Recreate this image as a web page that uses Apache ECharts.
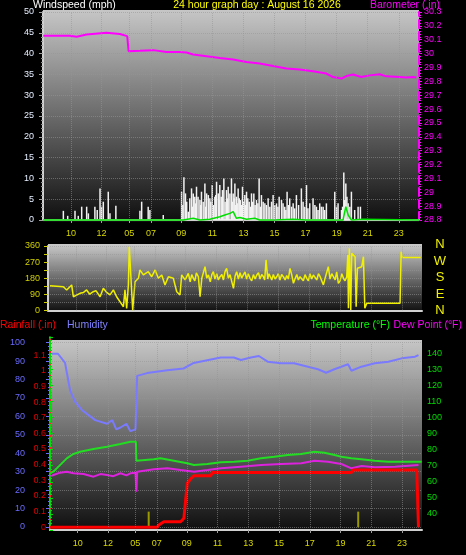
<!DOCTYPE html>
<html><head><meta charset="utf-8">
<script src="https://cdn.jsdelivr.net/npm/echarts@6/dist/echarts.min.js"></script>
<style>html,body{margin:0;padding:0;background:#000;}#c{width:466px;height:555px;}</style>
</head><body><div id="c"></div>
<script>
// ---- x axis (hours since left edge of plot), with irregular clock labels ----
const XMAX = 24.2;
const hourTickPos = [1.8, 3.77, 5.55, 6.95, 8.9, 10.9, 12.9, 14.9, 16.9, 18.9, 20.9, 22.9];
const hourTickLabels = ['10','12','05','07','09','11','13','15','17','19','21','23'];

// ---- wind speed (mph): gusts as bars, average as line ----
const gustT = [1.31,1.59,2.06,2.27,2.49,2.81,2.92,3.34,3.49,3.67,3.77,3.88,4.20,4.31,4.69,6.24,6.35,6.77,6.88,7.74,
  8.92,9.07,9.17,9.35,9.56,9.67,9.77,9.88,10.10,10.20,10.42,10.53,10.74,10.89,11.06,11.17,11.28,11.38,11.55,11.64,11.81,11.92,
  12.13,12.24,12.35,12.45,12.56,12.71,12.84,12.99,13.10,13.27,13.42,13.57,13.74,13.91,14.06,14.28,14.49,14.71,14.81,
  15.03,15.20,15.35,15.56,15.71,15.88,16.10,16.31,16.63,16.74,16.96,17.17,17.38,17.60,17.81,18.03,18.24,18.78,18.89,18.99,
  19.21,19.36,19.49,19.64,19.85,20.06,20.28,20.43,
  9.00,9.25,9.45,9.62,9.82,9.98,10.15,10.31,10.47,10.64,10.80,10.97,11.12,11.33,11.47,11.72,11.87,12.03,12.18,12.30,12.40,
  12.50,12.63,12.78,12.92,13.05,13.18,13.35,13.50,13.65,13.83,13.99,14.17,14.38,14.60,14.92,15.12,15.45,15.63,15.80,16.00,
  16.20,16.45,16.85,17.05,17.50,17.70,17.92,18.13,19.28,19.42,19.56,19.75];
const gustV = [2.2,1.0,2.2,1.0,3.2,3.2,1.6,3.2,2.4,7.6,3.2,4.4,6.8,1.6,3.4,2.2,4.4,3.2,2.4,1.2,
  6.8,10.3,6.4,2.0,7.6,6.4,5.6,8.0,4.8,6.8,8.8,6.4,5.2,8.4,5.6,9.2,6.4,8.4,7.2,10.0,7.2,8.0,
  10.0,6.4,8.8,5.6,7.6,4.8,8.0,6.0,6.8,4.4,6.4,6.4,4.8,10.0,6.0,4.0,5.2,4.4,6.0,
  4.0,5.6,4.8,3.2,6.8,5.2,4.0,6.0,7.6,4.4,8.4,4.0,5.2,3.2,4.0,3.2,4.0,6.8,3.2,4.0,
  2.4,11.4,8.8,4.0,6.8,2.4,3.2,3.2,
  3.6,4.4,5.2,3.2,4.0,5.6,3.6,4.4,3.2,6.0,4.4,3.6,6.0,4.8,5.6,4.4,5.2,6.4,4.4,5.2,3.6,
  4.0,5.2,3.6,4.4,3.6,5.2,3.2,4.4,3.6,4.0,3.2,4.4,3.6,3.2,3.6,3.2,4.0,2.4,3.6,3.2,
  2.8,3.6,3.2,2.8,3.6,2.4,3.2,2.4,3.2,4.8,5.6,3.2];
const avgT = [0, 9.02, 9.67, 10.10, 10.74, 11.38, 11.70, 12.03, 12.24, 12.45, 12.67, 13.10, 13.63, 13.95, 14.81, 16.10, 16.96, 19.31, 19.49, 19.64, 19.85, 20.60, 24.2];
const avgV = [0, 0, 0.4, 0, 0.2, 0.8, 1.2, 1.6, 2.0, 0.4, 0.6, 0.2, 0.4, 0, 0, 0.2, 0, 0, 3.2, 1.2, 0, 0.2, 0];

// ---- barometer (inHg) ----
const baroT = [0.02,1.74,2.17,2.81,4.09,4.95,5.42,5.51,6.24,7.10,7.95,8.81,9.24,9.67,10.53,11.38,12.24,13.10,13.95,14.81,15.67,16.52,17.38,18.24,18.67,19.21,19.53,19.96,20.49,21.03,21.67,22.10,22.96,23.39,23.82,24.03];
const baroV = [30.128,30.128,30.121,30.138,30.150,30.141,30.126,30.017,30.020,30.025,30.012,30.012,30.008,29.993,29.981,29.969,29.957,29.940,29.928,29.911,29.892,29.885,29.872,29.856,29.831,29.820,29.838,29.849,29.831,29.843,29.851,29.836,29.831,29.827,29.831,29.827];

// ---- wind direction (degrees) ----
const dirT = [0.13,0.99,1.21,1.53,1.64,2.07,2.3,2.5,2.7,2.93,3.1,3.37,3.58,3.8,4.01,4.1,4.23,4.44,4.66,4.88,4.98,5.09,5.20,5.26,5.35,5.48,
  5.63,5.85,5.95,6.17,6.49,6.71,6.93,7.14,7.36,7.57,7.79,8.11,8.33,8.54,8.65,8.87,9.08,9.2,9.3,9.41,9.5,9.6,9.73,9.84,9.95,
  10.05,10.16,10.27,10.38,10.5,10.6,10.70,10.8,10.92,11.02,11.13,11.25,11.35,11.45,11.56,11.67,11.78,11.89,12.00,12.1,12.21,
  12.32,12.43,12.53,12.64,12.75,12.85,12.96,13.07,13.18,13.29,13.4,13.51,13.62,13.72,13.83,13.94,14.02,14.11,14.22,14.3,14.37,
  14.48,14.58,14.69,14.80,14.9,15.01,15.12,15.23,15.34,15.45,15.55,15.66,15.77,15.88,15.98,16.1,16.2,16.31,16.42,16.52,16.63,
  16.74,16.85,16.95,17.06,17.17,17.28,17.39,17.5,17.61,17.72,17.82,17.93,18.03,18.14,18.25,18.36,18.47,18.58,18.68,18.79,
  18.9,19.01,19.12,19.22,19.33,19.40,19.44,19.50,19.59,19.65,19.87,19.94,20.02,20.30,20.41,20.50,20.63,22.78,22.85,22.93,24.12];
const dirV = [138,132,114,142,76,95,100,114,90,104,110,76,123,100,86,95,114,76,48,20,114,11,142,356,347,0,
  160,179,226,198,216,188,226,179,198,142,188,179,104,86,198,170,207,160,200,179,165,210,188,76,179,
  170,244,180,198,160,200,216,175,205,170,188,200,170,215,235,180,200,207,123,190,216,
  175,210,180,198,215,175,205,179,165,200,175,198,210,175,200,188,170,282,175,205,198,
  170,200,175,188,205,170,200,188,170,195,175,235,200,151,175,200,170,188,195,165,200,
  179,165,205,175,198,200,170,205,188,195,142,180,210,244,175,205,198,170,215,151,
  165,205,179,165,188,310,11,347,2,319,300,20,235,244,300,11,39,39,328,295,295];

// ---- humidity (%) ----
const humT = [0.13,0.52,0.98,1.31,1.63,2.07,2.94,3.71,4.05,4.31,4.58,4.97,5.23,5.56,5.67,6.32,7.63,8.69,9.35,11.11,11.96,12.42,13.07,13.59,14.16,15.03,15.88,16.78,17.43,17.97,18.50,19.39,19.61,20.26,21.13,22.01,22.88,23.75,23.97];
const humV = [94,94,89,74,68,63.5,58,56,58,53,54,56,52,53,82,83.5,85,86,89,92,92,90.6,92,92.8,89.7,88.8,88.8,87,85.6,83.7,85.6,88.3,84.8,87,88.8,89.7,91.5,92.4,93.3];

// ---- temperature and dew point (°F) ----
const tempT = [0.03,0.22,0.65,1.09,1.52,1.96,2.83,3.71,4.58,5.23,5.59,5.62,6.75,7.19,8.06,8.93,9.37,10.24,11.11,11.98,12.86,13.73,14.59,15.47,16.34,17.21,17.86,18.52,18.95,19.61,20.26,21.13,22.01,24.18];
const tempV = [65.5,66.3,70.4,74.6,77.3,78.7,80.4,81.8,83.5,84.9,84.9,73.1,74,74.6,73.1,71.5,70.4,71.1,72.1,72.5,73.1,74.6,75.6,76.7,77.3,78.7,78.1,76.7,75.6,74.6,74,73.1,72.5,72.5];
const dewT = [0.03,0.22,0.65,1.09,1.52,2.18,2.83,3.27,3.71,4.12,4.58,4.97,5.23,5.56,5.62,5.67,6.75,7.63,8.50,9.37,10.24,11.11,12.42,13.73,15.03,16.34,17.21,18.08,18.95,19.61,20.26,21.13,22.44,23.97];
const dewV = [63.5,64.2,65.7,66.3,65.3,64.8,63.2,64.8,64.2,63.5,65.3,64.0,65.3,65.7,53.8,66.3,67.8,68.4,67.3,66.3,67.3,68.4,69.4,70.4,71.1,71.5,73.1,72.5,71.1,68.4,69.8,69,69.4,70.4];

// ---- rainfall (in) ----
const rainT = [0,6.97,7.08,7.41,8.50,8.71,8.82,8.93,9.15,9.37,10.46,10.57,19.61,19.72,23.86,23.97];
const rainV = [0,0,0.015,0.036,0.036,0.058,0.17,0.28,0.31,0.33,0.33,0.35,0.35,0.366,0.366,0];
const markerT = [6.42, 20.05];
const markerV = [0.1, 0.1];

const zip = (a, b) => a.map((x, i) => [x, b[i]]);
const FONT = '"Liberation Sans", Arial, sans-serif';
const GRIDC = 'rgba(150,150,150,0.55)';
const fmtHour = v => { const i = hourTickPos.findIndex(p => Math.abs(p - v) < 1e-6); return i >= 0 ? hourTickLabels[i] : ''; };
const vLines = () => ({ silent: true, symbol: 'none', animation: false, label: { show: false },
  emphasis: { disabled: true }, lineStyle: { color: GRIDC, type: 'dotted', width: 1 },
  data: hourTickPos.map(v => ({ xAxis: v })) });
const xBase = (gi) => ({ type: 'value', gridIndex: gi, min: 0, max: XMAX, splitLine: { show: false } });
const labelX = (gi) => Object.assign(xBase(gi), {
  axisLine: { show: true, lineStyle: { color: '#d0d0d0', width: 2 } },
  axisTick: { show: true, customValues: hourTickPos, length: 3, lineStyle: { color: '#a0a0a0' } },
  axisLabel: { show: true, customValues: hourTickPos, formatter: fmtHour, color: '#d8d800', fontSize: 9, fontFamily: FONT, margin: 9 }
});
const grad = (top, bot) => ({ type: 'linear', x: 0, y: 0, x2: 0, y2: 1, colorStops: [{ offset: 0, color: top }, { offset: 1, color: bot }] });
const txt = (text, x, y, color, align, size) => ({ type: 'text', x: x, y: y, z: 10,
  style: { text: text, fill: color, font: (size || 10.5) + 'px ' + FONT, textAlign: align || 'left', textVerticalAlign: 'top' } });

const option = {
  backgroundColor: '#000',
  animation: false,
  grid: [
    { left: 43, top: 12, width: 376, height: 208 },
    { left: 48, top: 246, width: 374, height: 64.3 },
    { left: 50, top: 342.7, width: 372, height: 184.3 },
    { left: 50, top: 339.4, width: 372, height: 187.9 },
    { left: 50, top: 337.2, width: 372, height: 192.8 }
  ],
  xAxis: [
    labelX(0),
    Object.assign(xBase(1), { axisLine: { show: true, lineStyle: { color: '#d0d0d0', width: 2 } }, axisTick: { show: false }, axisLabel: { show: false } }),
    Object.assign(xBase(2), { show: false }),
    Object.assign(xBase(3), { show: false }),
    labelX(4)
  ],
  yAxis: [
    { type: 'value', gridIndex: 0, position: 'left', min: 0, max: 50, interval: 5,
      axisLine: { show: true, lineStyle: { color: '#d0d0d0', width: 2 } },
      axisTick: { show: true, length: 4, lineStyle: { color: '#a0a0a0' } },
      minorTick: { show: true, splitNumber: 5, length: 2, lineStyle: { color: '#909090' } },
      axisLabel: { color: '#e6eeff', fontSize: 9, fontFamily: FONT, margin: 9 },
      splitLine: { show: true, lineStyle: { color: GRIDC, type: 'dotted' } } },
    { type: 'value', gridIndex: 0, position: 'right', min: 28.8, max: 30.3, interval: 0.1,
      axisLine: { show: true, lineStyle: { color: '#ff00ff', width: 2, type: 'dashed' } },
      axisTick: { show: true, length: 3, lineStyle: { color: '#ff00ff' } },
      minorTick: { show: true, splitNumber: 5, length: 2, lineStyle: { color: '#ff00ff' } },
      axisLabel: { color: '#ff00ff', fontSize: 9, fontFamily: FONT, margin: 5, formatter: v => String(parseFloat(v.toFixed(1))) },
      splitLine: { show: false } },
    { type: 'value', gridIndex: 1, position: 'left', min: 0, max: 360, interval: 45,
      axisLine: { show: true, lineStyle: { color: '#d0d0d0', width: 2 } },
      axisTick: { show: true, length: 4, lineStyle: { color: '#d0d000' } },
      axisLabel: { color: '#d0d000', fontSize: 9, fontFamily: FONT, margin: 8, formatter: v => (Math.round(v) % 90 === 0 ? String(Math.round(v)) : '') },
      splitLine: { show: true, lineStyle: { color: GRIDC, type: 'dotted' } } },
    { type: 'value', gridIndex: 2, position: 'left', offset: 20, min: 0, max: 100, interval: 10,
      axisLine: { show: true, lineStyle: { color: '#6a6aff', width: 2 } },
      axisTick: { show: true, length: 4, lineStyle: { color: '#6a6aff' } },
      minorTick: { show: true, splitNumber: 5, length: 2, lineStyle: { color: '#6a6aff' } },
      axisLabel: { color: '#6a6aff', fontSize: 9, fontFamily: FONT, margin: 5 },
      splitLine: { show: true, lineStyle: { color: GRIDC, type: 'dotted' } } },
    { type: 'value', gridIndex: 3, position: 'left', min: 0, max: 1.2, interval: 0.1,
      axisLine: { show: true, lineStyle: { color: '#ff2020', width: 2, type: 'dashed' } },
      axisTick: { show: false },
      axisLabel: { color: '#dd0000', fontSize: 9, fontFamily: FONT, margin: 4, showMaxLabel: false, formatter: v => String(parseFloat(v.toFixed(1))) },
      splitLine: { show: false } },
    { type: 'value', gridIndex: 4, position: 'right', min: 30, max: 150, interval: 10,
      axisLine: { show: true, lineStyle: { color: '#00dd00', width: 2, type: 'dashed' } },
      axisTick: { show: true, length: 3, lineStyle: { color: '#00dd00' } },
      minorTick: { show: true, splitNumber: 5, length: 2, lineStyle: { color: '#00dd00' } },
      axisLabel: { color: '#00dd00', fontSize: 9, fontFamily: FONT, margin: 5, showMinLabel: false, showMaxLabel: false },
      splitLine: { show: false } }
  ],
  graphic: [
    { type: 'rect', z: -10, shape: { x: 43, y: 10, width: 376, height: 212 }, style: { fill: grad('#c6c6c6', '#0e0e0e') } },
    { type: 'rect', z: -10, shape: { x: 48, y: 244, width: 374, height: 68 }, style: { fill: grad('#cacaca', '#0e0e0e') } },
    { type: 'rect', z: -10, shape: { x: 50, y: 340, width: 372, height: 191 }, style: { fill: grad('#c6c6c6', '#0e0e0e') } },
    txt('Windspeed (mph)', 33, 0, '#ffffff', 'left'),
    txt('24 hour graph day : August 16 2026', 257, 0, '#ffff00', 'center'),
    txt('Barometer (.in)', 440, 0, '#ff00ff', 'right'),
    txt('Rainfall (.in)', 0, 320, '#ff0000', 'left'),
    txt('Humidity', 67, 320, '#8080ff', 'left'),
    txt('Temperature (°F)', 390, 320, '#00ff00', 'right'),
    txt('Dew Point (°F)', 462, 320, '#ff00ff', 'right'),
    txt('N', 440, 238, '#f0f000', 'center', 13),
    txt('W', 440, 255, '#f0f000', 'center', 13),
    txt('S', 440, 271, '#f0f000', 'center', 13),
    txt('E', 440, 288, '#f0f000', 'center', 13),
    txt('N', 440, 304, '#f0f000', 'center', 13)
  ],
  series: [
    { name: 'Gust', type: 'bar', xAxisIndex: 0, yAxisIndex: 0, data: zip(gustT, gustV), barWidth: 1.5,
      itemStyle: { color: '#f2f2f2' }, silent: true, markLine: vLines() },
    { name: 'Average', type: 'line', xAxisIndex: 0, yAxisIndex: 0, data: zip(avgT, avgV), symbol: 'none',
      lineStyle: { color: '#00e000', width: 1.5 }, clip: false, silent: true },
    { name: 'Barometer', type: 'line', xAxisIndex: 0, yAxisIndex: 1, data: zip(baroT, baroV), symbol: 'none',
      lineStyle: { color: '#ff00ff', width: 2 }, silent: true },
    { name: 'Direction', type: 'line', xAxisIndex: 1, yAxisIndex: 2, data: zip(dirT, dirV), symbol: 'none',
      lineStyle: { color: '#f0f000', width: 1.5 }, silent: true, markLine: vLines() },
    { name: 'Humidity', type: 'line', xAxisIndex: 2, yAxisIndex: 3, data: zip(humT, humV), symbol: 'none',
      lineStyle: { color: '#7a7aff', width: 2 }, silent: true, markLine: vLines() },
    { name: 'Temperature', type: 'line', xAxisIndex: 4, yAxisIndex: 5, data: zip(tempT, tempV), symbol: 'none',
      lineStyle: { color: '#22dd22', width: 2 }, silent: true },
    { name: 'Dew Point', type: 'line', xAxisIndex: 4, yAxisIndex: 5, data: zip(dewT, dewV), symbol: 'none',
      lineStyle: { color: '#dd22dd', width: 2 }, silent: true },
    { name: 'Rainfall', type: 'line', xAxisIndex: 3, yAxisIndex: 4, data: zip(rainT, rainV), symbol: 'none',
      lineStyle: { color: '#ff0000', width: 3 }, clip: false, silent: true },
    { name: 'Marker', type: 'bar', xAxisIndex: 3, yAxisIndex: 4, data: zip(markerT, markerV), barWidth: 2,
      itemStyle: { color: '#9a9a00' }, silent: true }
  ]
};
const chart = echarts.init(document.getElementById('c'));
chart.setOption(option);
</script></body></html>
